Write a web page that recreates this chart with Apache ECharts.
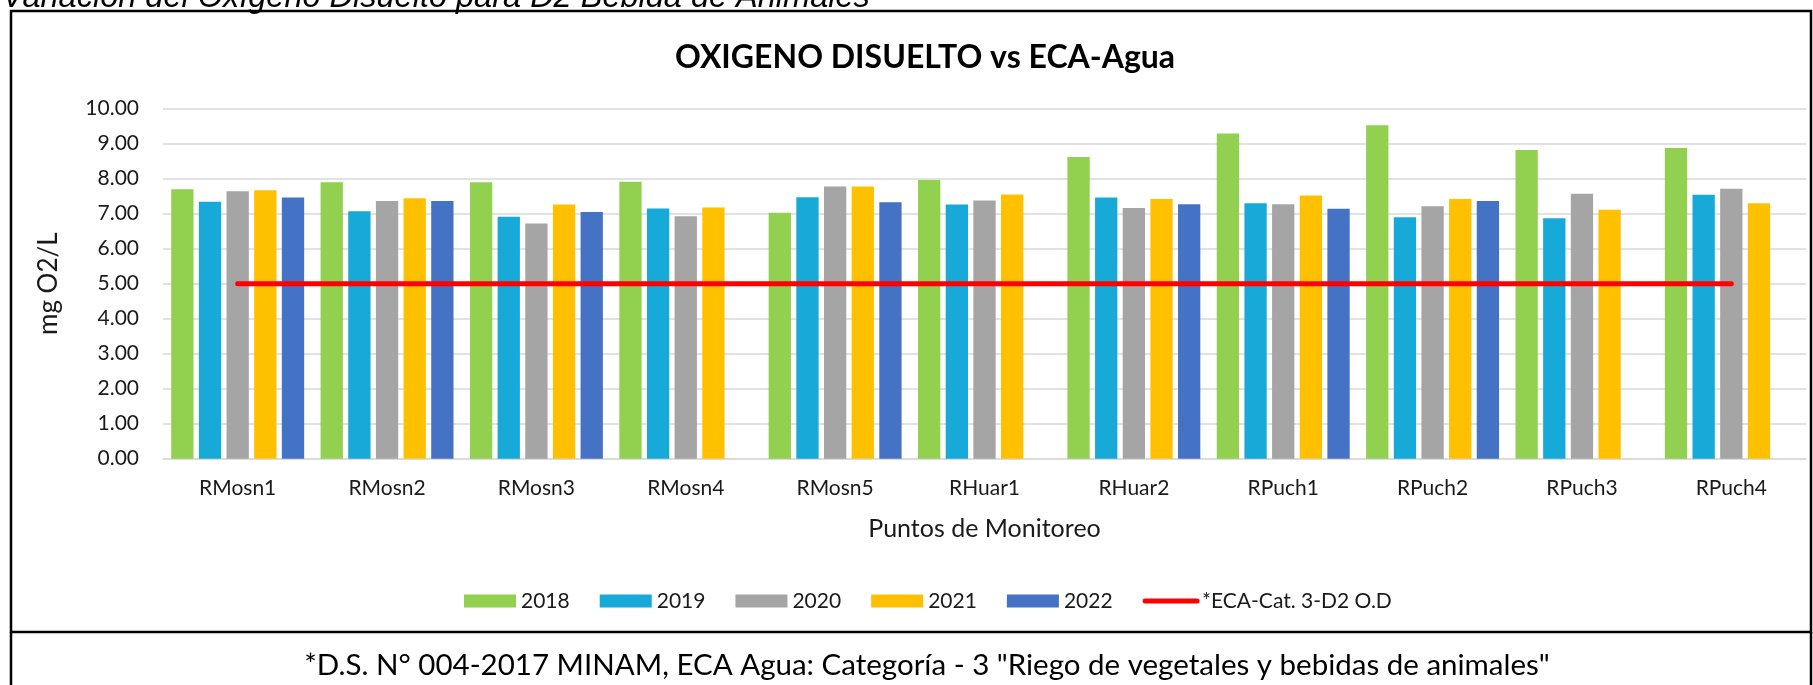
<!DOCTYPE html>
<html>
<head>
<meta charset="utf-8">
<title>Oxigeno Disuelto vs ECA-Agua</title>
<script src="https://cdn.jsdelivr.net/npm/echarts@6/dist/echarts.min.js"></script>
<style>
  html, body { margin: 0; padding: 0; background: #fff; }
  #chart { width: 1813px; height: 685px; }
</style>
</head>
<body>
<div id="chart"></div>
<script>
// puntos de monitoreo
const puntos = ['RMosn1', 'RMosn2', 'RMosn3', 'RMosn4', 'RMosn5', 'RHuar1', 'RHuar2', 'RPuch1', 'RPuch2', 'RPuch3', 'RPuch4']
// oxigeno disuelto (mg O2/L) por año
const od2018 = [7.70, 7.90, 7.90, 7.91, 7.03, 7.96, 8.62, 9.29, 9.53, 8.82, 8.88]
const od2019 = [7.34, 7.07, 6.91, 7.15, 7.47, 7.26, 7.46, 7.30, 6.90, 6.87, 7.54]
const od2020 = [7.64, 7.36, 6.72, 6.93, 7.78, 7.38, 7.16, 7.27, 7.21, 7.57, 7.71]
const od2021 = [7.67, 7.44, 7.26, 7.18, 7.78, 7.55, 7.42, 7.52, 7.42, 7.11, 7.30]
const od2022 = [7.46, 7.36, 7.05, null, 7.33, null, 7.27, 7.14, 7.36, null, null]
// estandar ECA Cat. 3 - D2
const eca = [5, 5, 5, 5, 5, 5, 5, 5, 5, 5, 5]
const years = ['2018', '2019', '2020', '2021', '2022']
const yearColors = ['#92D050', '#17A9D8', '#A5A5A5', '#FFC000', '#4472C4']
const ecaName = '*ECA-Cat. 3-D2 O.D'
const yTicks = [0, 10, 1]

const font = 'Lato'
const txt = '#1a1a1a'

const chart = echarts.init(document.getElementById('chart'))

const barSeries = [od2018, od2019, od2020, od2021, od2022].map((vals, i) => ({
  name: years[i],
  type: 'bar',
  data: vals,
  barGap: '24%',
  barCategoryGap: '11%',
  itemStyle: { color: yearColors[i] },
}))

chart.setOption({
  animation: false,
  textStyle: { fontFamily: font, color: txt },
  grid: { left: 163, right: 7, top: 108.7, bottom: 226.3 },
  legend: {
    left: 459,
    top: 585.5,
    itemWidth: 52,
    itemHeight: 13,
    itemGap: 30,
    textStyle: { fontFamily: font, fontSize: 21, color: txt },
    data: [
      ...years.map((y) => ({ name: y, icon: 'rect' })),
      {
        name: ecaName,
        itemStyle: { opacity: 0 },
        lineStyle: { color: '#FF0000', width: 5, cap: 'round' },
      },
    ],
  },
  xAxis: {
    type: 'category',
    data: puntos,
    name: 'Puntos de Monitoreo',
    nameLocation: 'middle',
    nameGap: 58,
    nameTextStyle: { fontFamily: font, fontSize: 25, color: txt },
    axisTick: { show: false },
    axisLine: { lineStyle: { color: '#D9D9D9', width: 1.5 } },
    axisLabel: { fontFamily: font, fontSize: 21, color: txt, margin: 19 },
  },
  yAxis: {
    type: 'value',
    min: yTicks[0],
    max: yTicks[1],
    interval: yTicks[2],
    name: 'mg O2/L',
    nameLocation: 'middle',
    nameGap: 101,
    nameTextStyle: { fontFamily: font, fontSize: 26, color: txt },
    axisLabel: {
      fontFamily: font,
      fontSize: 21,
      color: txt,
      margin: 24,
      formatter: (v) => v.toFixed(2),
    },
    splitLine: { lineStyle: { color: '#D9D9D9', width: 1.5 } },
  },
  series: [
    ...barSeries,
    {
      name: ecaName,
      type: 'line',
      data: eca,
      symbol: 'none',
      z: 5,
      lineStyle: { color: '#FF0000', width: 5, cap: 'round' },
      itemStyle: { color: '#FF0000' },
    },
  ],
  graphic: [
    {
      type: 'text',
      left: 2,
      top: -19,
      style: {
        text: 'Variación del Oxígeno Disuelto para D2 Bebida de Animales',
        font: 'italic 32.5px "Liberation Sans"',
        fill: '#000',
      },
    },
    {
      type: 'rect',
      shape: { x: 11, y: 11, width: 1800, height: 621 },
      style: { fill: 'none', stroke: '#000', lineWidth: 2.5 },
    },
    {
      type: 'line',
      shape: { x1: 11, y1: 632, x2: 11, y2: 685 },
      style: { stroke: '#000', lineWidth: 2.5 },
    },
    {
      type: 'line',
      shape: { x1: 1811, y1: 632, x2: 1811, y2: 685 },
      style: { stroke: '#000', lineWidth: 2.5 },
    },
    {
      type: 'text',
      x: 925,
      y: 58,
      style: {
        text: 'OXIGENO DISUELTO vs ECA-Agua',
        font: 'bold 32px Lato',
        fill: '#000',
        align: 'center',
        verticalAlign: 'middle',
      },
    },
    {
      type: 'text',
      x: 927,
      y: 665,
      style: {
        text: '*D.S. N° 004-2017 MINAM, ECA Agua: Categoría - 3 "Riego de vegetales y bebidas de animales"',
        font: '29.5px Lato',
        fill: '#000',
        align: 'center',
        verticalAlign: 'middle',
      },
    },
  ],
})
</script>
</body>
</html>
